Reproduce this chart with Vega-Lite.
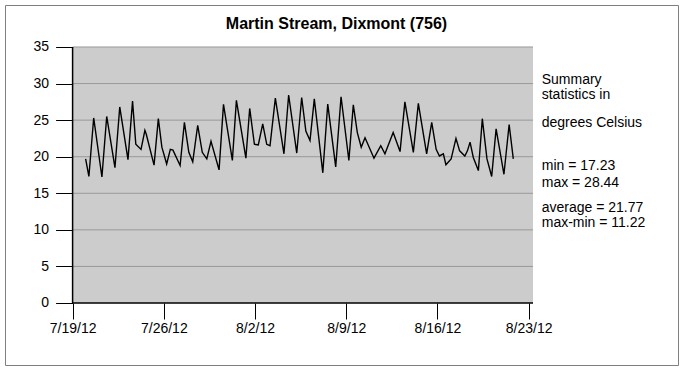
{
  "$schema": "https://vega.github.io/schema/vega-lite/v6.json",
  "width": 673,
  "height": 360,
  "autosize": {"type": "none"},
  "padding": {"left": 5, "top": 5, "right": 5, "bottom": 5},
  "background": "white",
  "config": {
    "font": "Liberation Sans",
    "view": {"stroke": "#808080", "strokeWidth": 1, "fill": "white"}
  },
  "title": {
    "text": "Martin Stream, Dixmont (756)",
    "fontSize": 16,
    "fontWeight": "bold",
    "color": "black",
    "anchor": "middle",
    "frame": "group",
    "offset": -27,
    "dx": -5
  },
  "datasets": {
    "grid": [{"v": 5}, {"v": 10}, {"v": 15}, {"v": 20}, {"v": 25}, {"v": 30}, {"v": 35}],
    "temps": [
      {"t": "2012-07-20T00:00", "temp": 19.7},
      {"t": "2012-07-20T06:00", "temp": 17.3},
      {"t": "2012-07-20T14:50", "temp": 25.3},
      {"t": "2012-07-21T06:00", "temp": 17.23},
      {"t": "2012-07-21T14:50", "temp": 25.5},
      {"t": "2012-07-22T06:00", "temp": 18.5},
      {"t": "2012-07-22T14:50", "temp": 26.8},
      {"t": "2012-07-23T06:00", "temp": 19.6},
      {"t": "2012-07-23T14:25", "temp": 27.6},
      {"t": "2012-07-23T20:25", "temp": 21.7},
      {"t": "2012-07-24T06:00", "temp": 21.0},
      {"t": "2012-07-24T13:10", "temp": 23.6},
      {"t": "2012-07-24T15:35", "temp": 23.1},
      {"t": "2012-07-25T06:00", "temp": 18.85},
      {"t": "2012-07-25T13:55", "temp": 25.2},
      {"t": "2012-07-25T20:25", "temp": 21.3},
      {"t": "2012-07-26T05:15", "temp": 19.0},
      {"t": "2012-07-26T12:00", "temp": 21.0},
      {"t": "2012-07-26T16:50", "temp": 20.9},
      {"t": "2012-07-27T06:00", "temp": 18.8},
      {"t": "2012-07-27T13:55", "temp": 24.7},
      {"t": "2012-07-27T22:05", "temp": 20.6},
      {"t": "2012-07-28T05:15", "temp": 19.3},
      {"t": "2012-07-28T14:25", "temp": 24.3},
      {"t": "2012-07-28T22:50", "temp": 20.6},
      {"t": "2012-07-29T07:10", "temp": 19.7},
      {"t": "2012-07-29T14:55", "temp": 22.1},
      {"t": "2012-07-30T05:45", "temp": 18.2},
      {"t": "2012-07-30T13:55", "temp": 27.15},
      {"t": "2012-07-31T06:15", "temp": 19.5},
      {"t": "2012-07-31T13:40", "temp": 27.7},
      {"t": "2012-08-01T07:10", "temp": 19.8},
      {"t": "2012-08-01T14:10", "temp": 26.6},
      {"t": "2012-08-01T22:50", "temp": 21.7},
      {"t": "2012-08-02T06:00", "temp": 21.6},
      {"t": "2012-08-02T14:10", "temp": 24.5},
      {"t": "2012-08-02T21:35", "temp": 21.7},
      {"t": "2012-08-03T03:35", "temp": 21.5},
      {"t": "2012-08-03T13:25", "temp": 28.0},
      {"t": "2012-08-04T05:15", "temp": 20.4},
      {"t": "2012-08-04T13:55", "temp": 28.44},
      {"t": "2012-08-05T04:50", "temp": 20.5},
      {"t": "2012-08-05T13:55", "temp": 28.1},
      {"t": "2012-08-05T21:35", "temp": 23.5},
      {"t": "2012-08-06T05:15", "temp": 22.2},
      {"t": "2012-08-06T13:10", "temp": 27.9},
      {"t": "2012-08-07T04:50", "temp": 17.8},
      {"t": "2012-08-07T13:55", "temp": 27.2},
      {"t": "2012-08-08T04:35", "temp": 18.6},
      {"t": "2012-08-08T14:25", "temp": 28.2},
      {"t": "2012-08-09T04:50", "temp": 19.5},
      {"t": "2012-08-09T13:00", "temp": 27.1},
      {"t": "2012-08-09T20:25", "temp": 23.3},
      {"t": "2012-08-10T03:35", "temp": 21.3},
      {"t": "2012-08-10T10:35", "temp": 22.6},
      {"t": "2012-08-11T03:05", "temp": 19.8},
      {"t": "2012-08-11T15:35", "temp": 21.5},
      {"t": "2012-08-11T23:15", "temp": 20.4},
      {"t": "2012-08-12T14:25", "temp": 23.3},
      {"t": "2012-08-13T03:05", "temp": 20.7},
      {"t": "2012-08-13T12:00", "temp": 27.5},
      {"t": "2012-08-14T03:35", "temp": 20.6},
      {"t": "2012-08-14T12:45", "temp": 27.3},
      {"t": "2012-08-15T04:05", "temp": 20.4},
      {"t": "2012-08-15T13:25", "temp": 24.7},
      {"t": "2012-08-15T21:35", "temp": 21.0},
      {"t": "2012-08-16T03:35", "temp": 20.1},
      {"t": "2012-08-16T10:50", "temp": 20.4},
      {"t": "2012-08-16T15:35", "temp": 18.9},
      {"t": "2012-08-17T01:10", "temp": 19.7},
      {"t": "2012-08-17T10:05", "temp": 22.5},
      {"t": "2012-08-17T16:50", "temp": 20.8},
      {"t": "2012-08-18T02:25", "temp": 20.1},
      {"t": "2012-08-18T07:10", "temp": 20.8},
      {"t": "2012-08-18T12:00", "temp": 22.0},
      {"t": "2012-08-18T18:00", "temp": 19.9},
      {"t": "2012-08-19T03:20", "temp": 18.1},
      {"t": "2012-08-19T10:35", "temp": 25.2},
      {"t": "2012-08-19T19:10", "temp": 19.7},
      {"t": "2012-08-20T03:50", "temp": 17.3},
      {"t": "2012-08-20T12:00", "temp": 23.8},
      {"t": "2012-08-21T02:25", "temp": 17.6},
      {"t": "2012-08-21T12:00", "temp": 24.4},
      {"t": "2012-08-21T19:40", "temp": 19.7}
    ]
  },
  "layer": [
    {
      "data": {"name": "temps"},
      "mark": {"type": "line", "color": "black", "strokeWidth": 1.3, "opacity": 0},
      "encoding": {
        "x": {
          "field": "t",
          "type": "temporal",
          "title": null,
          "scale": {
            "domain": [
              {"year": 2012, "month": 7, "date": 13, "hours": 19, "minutes": 30},
              {"year": 2012, "month": 9, "date": 3, "hours": 11}
            ],
            "nice": false
          },
          "axis": {
            "values": [
              {"year": 2012, "month": 7, "date": 19},
              {"year": 2012, "month": 7, "date": 26},
              {"year": 2012, "month": 8, "date": 2},
              {"year": 2012, "month": 8, "date": 9},
              {"year": 2012, "month": 8, "date": 16},
              {"year": 2012, "month": 8, "date": 23}
            ],
            "format": "%-m/%-d/%y",
            "domain": false,
            "grid": false,
            "tickSize": 16,
            "tickColor": "black",
            "tickWidth": 1,
            "labelColor": "black",
            "labelFontSize": 14,
            "labelPadding": 2,
            "labelFlush": false,
            "labelOverlap": false,
            "offset": -62,
            "zindex": 2
          }
        },
        "y": {
          "field": "temp",
          "type": "quantitative",
          "title": null,
          "scale": {"domain": [-8.477, 40.742], "nice": false, "zero": false},
          "axis": {
            "values": [0, 5, 10, 15, 20, 25, 30, 35],
            "domain": false,
            "grid": false,
            "tickSize": 17,
            "tickColor": "black",
            "tickWidth": 1,
            "labelColor": "black",
            "labelFontSize": 14,
            "labelPadding": 7,
            "offset": -67.6,
            "zindex": 2
          }
        }
      }
    },
    {
      "data": {"values": [{}]},
      "mark": {"type": "rect", "color": "#cccccc"},
      "encoding": {
        "x": {"datum": {"year": 2012, "month": 7, "date": 19}, "type": "temporal", "title": null},
        "x2": {"datum": {"year": 2012, "month": 8, "date": 23, "hours": 8}},
        "y": {"datum": 0, "type": "quantitative", "title": null},
        "y2": {"datum": 35}
      }
    },
    {
      "data": {"name": "grid"},
      "mark": {"type": "rule", "color": "#999999", "strokeWidth": 1},
      "encoding": {
        "x": {"datum": {"year": 2012, "month": 7, "date": 19}, "type": "temporal", "title": null},
        "x2": {"datum": {"year": 2012, "month": 8, "date": 23, "hours": 8}},
        "y": {"field": "v", "type": "quantitative", "title": null}
      }
    },
    {
      "data": {"values": [{}]},
      "mark": {"type": "rule", "color": "black", "strokeWidth": 1.5},
      "encoding": {
        "x": {"datum": {"year": 2012, "month": 7, "date": 19}, "type": "temporal", "title": null},
        "x2": {"datum": {"year": 2012, "month": 8, "date": 23, "hours": 8}},
        "y": {"datum": 0, "type": "quantitative", "title": null}
      }
    },
    {
      "data": {"values": [{}]},
      "mark": {"type": "rule", "color": "black", "strokeWidth": 1.5},
      "encoding": {
        "x": {"datum": {"year": 2012, "month": 7, "date": 19}, "type": "temporal", "title": null},
        "y": {"datum": 0, "type": "quantitative", "title": null},
        "y2": {"datum": 35}
      }
    },
    {
      "data": {"name": "temps"},
      "mark": {"type": "line", "color": "black", "strokeWidth": 1.4},
      "encoding": {
        "x": {"field": "t", "type": "temporal", "title": null},
        "y": {"field": "temp", "type": "quantitative", "title": null}
      }
    },
    {
      "data": {"values": [{}]},
      "mark": {"type": "text", "text": ["Summary", "statistics in"], "lineHeight": 15, "align": "left", "baseline": "alphabetic", "fontSize": 14, "color": "black"},
      "encoding": {
        "x": {"datum": {"year": 2012, "month": 8, "date": 24}, "type": "temporal", "title": null},
        "y": {"datum": 29.9, "type": "quantitative", "title": null}
      }
    },
    {
      "data": {"values": [{}]},
      "mark": {"type": "text", "text": "degrees Celsius", "align": "left", "baseline": "alphabetic", "fontSize": 14, "color": "black"},
      "encoding": {
        "x": {"datum": {"year": 2012, "month": 8, "date": 24}, "type": "temporal", "title": null},
        "y": {"datum": 24.0, "type": "quantitative", "title": null}
      }
    },
    {
      "data": {"values": [{}]},
      "mark": {"type": "text", "text": ["min = 17.23", "max = 28.44"], "lineHeight": 16.5, "align": "left", "baseline": "alphabetic", "fontSize": 14, "color": "black"},
      "encoding": {
        "x": {"datum": {"year": 2012, "month": 8, "date": 24}, "type": "temporal", "title": null},
        "y": {"datum": 18.12, "type": "quantitative", "title": null}
      }
    },
    {
      "data": {"values": [{}]},
      "mark": {"type": "text", "text": ["average = 21.77", "max-min = 11.22"], "lineHeight": 15, "align": "left", "baseline": "alphabetic", "fontSize": 14, "color": "black"},
      "encoding": {
        "x": {"datum": {"year": 2012, "month": 8, "date": 24}, "type": "temporal", "title": null},
        "y": {"datum": 12.45, "type": "quantitative", "title": null}
      }
    }
  ]
}
